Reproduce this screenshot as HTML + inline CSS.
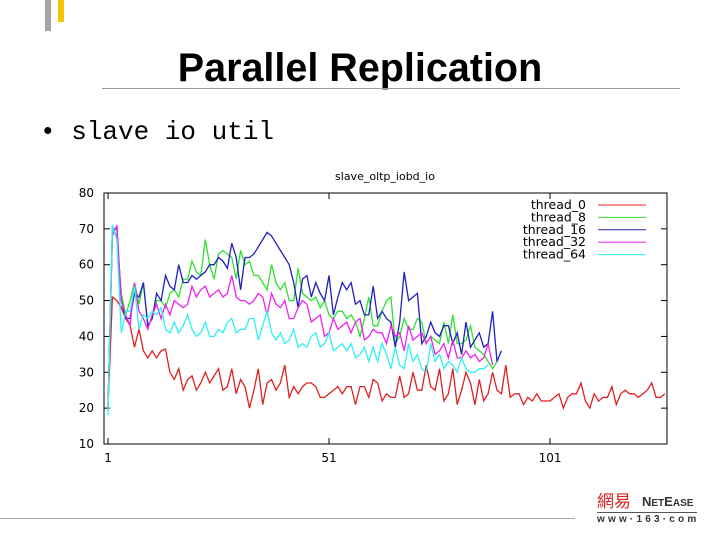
<!DOCTYPE html>
<html><head><meta charset="utf-8"><style>
body{margin:0;width:720px;height:540px;background:#fff;position:relative;overflow:hidden;font-family:"Liberation Sans",sans-serif}
.a{position:absolute}
</style></head><body>
<div class="a" style="left:45px;top:0;width:6px;height:31px;background:#a6a6a6"></div>
<div class="a" style="left:58px;top:0;width:6px;height:22px;background:#f5c400"></div>
<div class="a" style="left:0;top:45px;width:720px;text-align:center;font-weight:bold;font-size:39.5px;line-height:46px">Parallel Replication</div>
<div class="a" style="left:102px;top:88px;width:578px;height:1px;background:#999"></div>
<div class="a" style="left:40px;top:114px;font-family:'Liberation Mono',monospace;font-size:26px;line-height:36px">•&nbsp;slave io util</div>
<div class="a" style="left:0;top:518px;width:575px;height:1px;background:#aaa"></div>
<div class="a" style="left:597px;top:490px;font-size:17px;color:#d22;font-family:'Noto Sans CJK SC',sans-serif;line-height:20px">網易</div>
<div class="a" style="left:642px;top:495px;font-size:13px;font-weight:bold;color:#333;line-height:14px">N<span style="font-size:10px">ET</span>E<span style="font-size:10px">ASE</span></div>
<div class="a" style="left:597px;top:512px;width:100px;height:1px;background:#555"></div>
<div class="a" style="left:597px;top:514px;font-size:10px;font-weight:bold;color:#333;letter-spacing:3.2px;line-height:12px">www·163·com</div>
<svg class="a" style="left:0;top:0" width="720" height="540" id="s"></svg>
<script>
var R=[20,51,50,48,45,43,37,42,36,34,36,34,36,36.5,30,28,31,25,28,29,25,27,30,27,29,31,25,26,31,24,28,26,20,25,31,21,27,28,25,27,32,23,26,24,26,27,27,26,23,23,24,25,26,24,26,26,21,26,26,23,28,27,22,24,23,23,29,23,24,30,25,25,32,26,25,31,22,24,31,21,25,30,27,21,28,22,24,30,25,24,32,23,24,24,21,23,22,24,22,22,22,23,24,20,23,24,24,27,22,20,24,22,23,23,26,21,24,25,24,24,23,24,25,27,23,23,24];
var G=[20,70,68,52,46,50,55,49,55,43,45,50,50,48,52,53,51,56,56,61,58,57,67,60,56,63,64,63,62,56,64,60,61,57,57,55,53,60,55,53,55,50,50,59,52,51,50,51,48,50,46,45,47,47,45,46,44,40,45,51,43,43,47,50,51,38,40,45,42,42,45,44,38,40,39,38,44,38,46,38,38,39,43,37,36,35,33,31,33];
var B=[20,70,70,50,45,45,52,51,55,43,45,52,50,57,54,53,60,55,55,57,56,57,58,60,60,62,61,59,66,62,53,62,62,63,65,67,69,68,66,64,62,60,55,48,56,57,51,55,52,50,57,46,51,55,53,55,49,50,46,46,54,45,47,45,44,37,44,58,50,51,52,38,40,44,41,40,43,43,38,41,35,44,37,39,41,37,38,47,33,36];
var M=[20,68,71,50,46,43,55,47,45,42,46,49,45,49,46,50,49,48,49,54,51,53,54,51,52,53,51,52,57,51,50,50,49,50,52,51,46,52,49,48,50,45,45,48,50,49,44,45,46,40,41,45,42,43,44,41,44,45,39,40,42,41,41,38,43,40,41,36,43,39,40,41,38,40,35,36,38,34,39,34,34,36,34,35,33,34,38,32];
var C=[18,71,67,41,47,47,54,42,46,45,47,46,48,42,41,44,41,43,46,42,40,41,44,40,40,42,41,44,45,41,42,42,45,45,39,43,47,41,39,41,38,39,42,37,38,37,40,41,37,38,41,36,37,38,36,38,34,35,37,33,37,33,38,35,31,37,32,31,38,33,35,31,30,38,33,35,31,33,32,30,34,31,30,30,31,31,32];
var L=104,Rt=667,T=193,Bt=444;
function X(i){return 103.6+i*4.42}function Y(v){return Bt-(v-10)*(Bt-T)/70}
var h='<rect x="'+L+'" y="'+T+'" width="'+(Rt-L)+'" height="'+(Bt-T)+'" fill="none" stroke="#000" stroke-width="1"/>';
for(var v=10;v<=80;v+=10){var y=Y(v);h+='<line x1="'+L+'" y1="'+y+'" x2="'+(L+6)+'" y2="'+y+'" stroke="#000"/><line x1="'+Rt+'" y1="'+y+'" x2="'+(Rt-6)+'" y2="'+y+'" stroke="#000"/><text x="'+(L-10)+'" y="'+(y+4)+'" text-anchor="end" font-size="12" font-family="DejaVu Sans">'+v+'</text>';}
[1,51,101].forEach(function(k){var x=X(k);h+='<line x1="'+x+'" y1="'+Bt+'" x2="'+x+'" y2="'+(Bt-6)+'" stroke="#000"/><line x1="'+x+'" y1="'+T+'" x2="'+x+'" y2="'+(T+6)+'" stroke="#000"/><text x="'+x+'" y="'+(Bt+18)+'" text-anchor="middle" font-size="12" font-family="DejaVu Sans">'+k+'</text>';});
h+='<text x="385" y="180" text-anchor="middle" font-size="11" font-family="DejaVu Sans">slave_oltp_iobd_io</text>';
var S=[[R,'#e02020','thread_0'],[G,'#30e030','thread_8'],[B,'#2020c0','thread_16'],[M,'#f020f0','thread_32'],[C,'#30f0f0','thread_64']];
S.forEach(function(s,j){var p=s[0].map(function(v,i){return X(i+1).toFixed(1)+','+Y(v).toFixed(1)}).join(' ');
h+='<polyline points="'+p+'" fill="none" stroke="'+s[1]+'" stroke-width="1.3"/>';
var ly=205+j*12.4;h+='<text x="586" y="'+(ly+4)+'" text-anchor="end" font-size="12.5" font-family="DejaVu Sans">'+s[2]+'</text><line x1="598" y1="'+ly+'" x2="646" y2="'+ly+'" stroke="'+s[1]+'"/>';});
document.getElementById('s').innerHTML=h;
</script>
</body></html>
